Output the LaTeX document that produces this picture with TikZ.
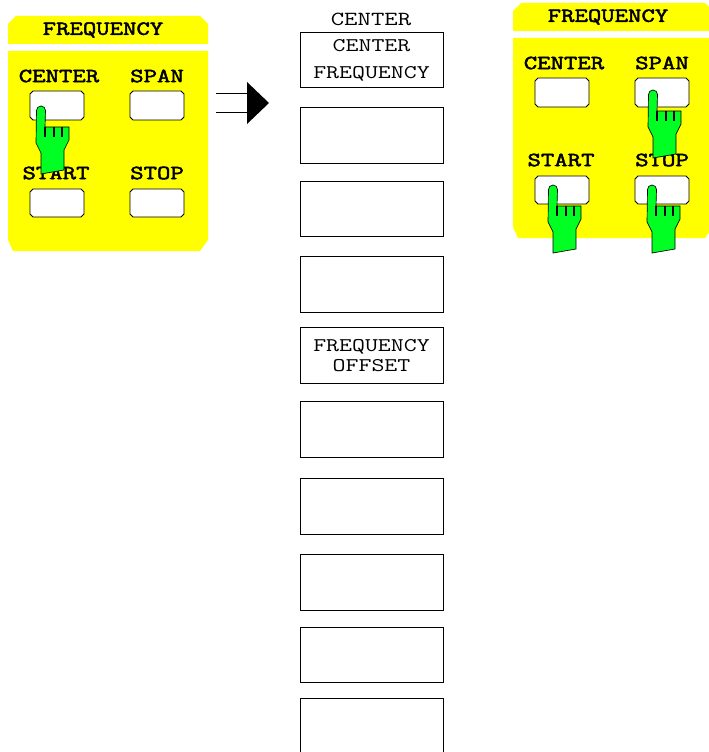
\documentclass[tikz,border=0pt]{standalone}
\usepackage{fontspec}
\setmonofont[FakeStretch=1.3,BoldFont={Latin Modern Mono},BoldFeatures={FakeBold=2.5}]{Latin Modern Mono}
\usepackage{tikz}
\usetikzlibrary{arrows.meta,positioning}
\definecolor{panelyellow}{RGB}{255,255,0}
\definecolor{handgreen}{RGB}{0,255,34}
\tikzset{
  softkey/.style={draw,line width=.7pt,minimum width=107.2pt,minimum height=41.5pt,align=center,inner sep=0pt,font=\ttfamily\fontsize{14.5}{18.5}\selectfont},
  keylabel/.style={font=\ttfamily\bfseries\fontsize{15}{16}\selectfont,inner sep=0pt},
  hand/.pic={
    \draw[fill=handgreen,line width=.5pt] (-4.5,4.5) arc[start angle=180,end angle=360,radius=4.5] -- (4,21) -- (28,21) -- (28,34) -- (23,44) -- (23,64) -- (0,68) -- (0,47) -- (-5,37) -- cycle;
    \draw[line width=.9pt] (4,21) -- (4,31) (13,21) -- (13,31) (21,21) -- (21,31);
  }
}
% panel with four keys, args: name, x shift, y shift
\newcommand{\freqpanel}[3]{
  \begin{scope}[shift={(#2,#3)}]
    \fill[panelyellow] (8,24) -- (16,16) -- (200,16) -- (208,24) -- (208,44) -- (8,44) -- cycle;
    \fill[panelyellow] (8,51) -- (208,51) -- (208,240) -- (200,251) -- (13,251) -- (8,240) -- cycle;
    \node[keylabel] (#1title) at (103,30) {FREQUENCY};
    \node[keylabel] (#1centerlabel) at (59,76) {CENTER};
    \node[keylabel] (#1spanlabel) at (157,76) {SPAN};
    \node[keylabel] (#1startlabel) at (56,173) {START};
    \node[keylabel] (#1stoplabel) at (157,173) {STOP};
    \draw[fill=white,line width=.6pt] (33,91) -- (81,91) -- (84,94) -- (84,117) -- (81,120) -- (33,120) -- (30,117) -- (30,94) -- cycle;
    \draw[fill=white,line width=.6pt] (133,91) -- (181,91) -- (184,94) -- (184,117) -- (181,120) -- (133,120) -- (130,117) -- (130,94) -- cycle;
    \draw[fill=white,line width=.6pt] (33,189) -- (81,189) -- (84,192) -- (84,214) -- (81,217) -- (33,217) -- (30,214) -- (30,192) -- cycle;
    \draw[fill=white,line width=.6pt] (133,189) -- (181,189) -- (184,192) -- (184,214) -- (181,217) -- (133,217) -- (130,214) -- (130,192) -- cycle;
  \end{scope}
}
\begin{document}
\begin{tikzpicture}[x=.75pt,y=-.75pt]
\useasboundingbox (0,0) rectangle (709,752);
\clip (0,0) rectangle (709,752);
\freqpanel{l}{0}{0}
\freqpanel{r}{505}{-13}
% softkey column
\node[font=\ttfamily\fontsize{15}{16}\selectfont,inner sep=0pt] (menutitle) at (371,19) {CENTER};
\node[softkey] (key1) at (371.5,60) {CENTER\\[2pt]FREQUENCY};
\node[softkey] (key2) at (371.5,135.5) {};
\node[softkey] (key3) at (371.5,209) {};
\node[softkey] (key4) at (371.5,284.5) {};
\node[softkey] (key5) at (371.5,355.5) {FREQUENCY\\[-4pt]OFFSET};
\node[softkey] (key6) at (371.5,429.5) {};
\node[softkey] (key7) at (371.5,506.5) {};
\node[softkey] (key8) at (371.5,582.5) {};
\node[softkey] (key9) at (371.5,655) {};
\node[softkey] (key10) at (371.5,726.5) {};
% arrow to the softkeys
\coordinate (tail1) at (216,93);
\coordinate (tail2) at (216,112);
\coordinate (head1) at (247,93);
\coordinate (head2) at (247,112);
\draw[line width=.7pt] (tail1) -- (head1);
\draw[line width=.7pt] (tail2) -- (head2);
\fill (247,82) -- (269,103) -- (247,124) -- cycle;
% hands last, they lie over the labels
\pic at (41,106) {hand};
\pic at (653,90) {hand};
\pic at (553,185) {hand};
\pic at (652,185) {hand};
\end{tikzpicture}
\end{document}
